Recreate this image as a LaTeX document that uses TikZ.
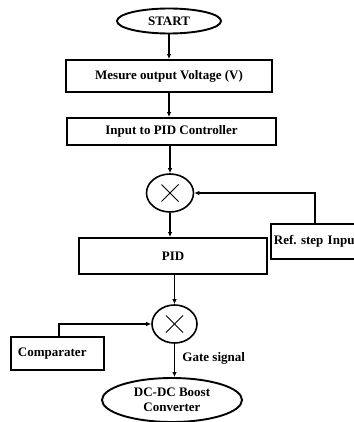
\documentclass[tikz,border=0pt]{standalone}
\usepackage{fontspec}
\setmainfont{Liberation Serif}
\frenchspacing
\usetikzlibrary{shapes.geometric,arrows.meta}
\tikzset{
  stepbox/.style={draw=black, line width=1.9pt, rectangle, inner sep=0pt, font=\fontsize{13}{15}\selectfont\bfseries},
  term/.style={draw=black, line width=1.9pt, ellipse, inner sep=0pt, align=center, font=\fontsize{13}{15}\selectfont\bfseries},
  mult/.style={draw=black, line width=1.6pt, ellipse, inner sep=0pt, minimum width=47pt, minimum height=38pt},
  flow/.style={line width=1.3pt, draw=black, -{Latex[length=5pt,width=4.5pt]}},
  crossline/.style={line width=1pt, draw=black},
}

\begin{document}
\begin{tikzpicture}[x=1pt,y=-1pt]
\useasboundingbox (0,0) rectangle (353,422);
\node[term, minimum width=104pt, minimum height=25pt] (start) at (169,21) {START};
\node[stepbox, minimum width=206pt, minimum height=32pt] (measure) at (169,76) {Mesure output Voltage (V)};
\node[stepbox, minimum width=209pt, minimum height=27pt] (pidin) at (171.5,131.5) {Input to PID Controller};
\node[mult] (mult1) at (170,193) {};
\draw[crossline] ([shift={(-8.5,-8.5)}]mult1.center) -- ([shift={(8.5,8.5)}]mult1.center);
\draw[crossline] ([shift={(-8.5,8.5)}]mult1.center) -- ([shift={(8.5,-8.5)}]mult1.center);
\node[stepbox, minimum width=188pt, minimum height=36pt] (pid) at (173,256) {PID};
\node[stepbox, anchor=west, minimum width=100pt, minimum height=35pt, inner xsep=3pt, text width=94pt, align=left] (ref) at (270,241.5) {Ref. step Input};
\node[mult, minimum width=45pt] (mult2) at (174.5,324) {};
\draw[crossline] ([shift={(-8.5,-8.5)}]mult2.center) -- ([shift={(8.5,8.5)}]mult2.center);
\draw[crossline] ([shift={(-8.5,8.5)}]mult2.center) -- ([shift={(8.5,-8.5)}]mult2.center);
\node[stepbox, anchor=west, minimum width=93pt, minimum height=33pt, inner xsep=7pt, text width=79pt, align=left] (comp) at (10,353.5) {Comparater};
\node[term, minimum width=140pt, minimum height=44pt] (boost) at (172,400) {DC-DC Boost\\Converter};
% connectors
\draw[flow] (start.south) -- (start.south |- measure.north);
\draw[flow] (measure.south) -- (measure.south |- pidin.north);
\draw[flow] (mult1.north |- pidin.south) -- (mult1.north);
\draw[flow] (mult1.south) -- (mult1.south |- pid.north);
\draw[flow] ([xshift=45pt]ref.north west) |- (mult1.east);
\draw[flow] (mult2.north |- pid.south) -- (mult2.north);
\draw[flow] ([xshift=49pt]comp.north west) |- (mult2.west);
\draw[flow] (mult2.south) -- node[right, pos=0.45, xshift=4pt, font=\fontsize{13}{15}\selectfont\bfseries] {Gate signal} (mult2.south |- boost.north);
\end{tikzpicture}
\end{document}
